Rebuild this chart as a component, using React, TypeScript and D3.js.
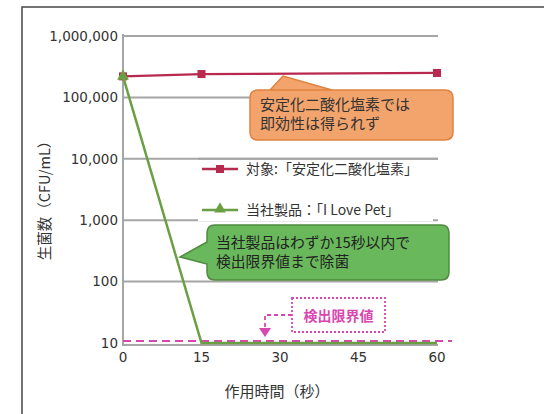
import React, { useEffect, useRef } from 'react';
import * as d3 from 'd3';

// data
const times = [0, 15, 30, 45, 60];
const yTicks = [10, 100, 1000, 10000, 100000, 1000000];
const controlTimes = [0, 15, 60];
const controlValues = [220000, 240000, 250000];
const productTimes = [0, 15, 30, 45, 60];
const productValues = [220000, 10, 10, 10, 10];
const detectionLimit = 10;

const controlName = '対象:「安定化二酸化塩素」';
const productName = '当社製品：「I Love Pet」';
const yTitle = '生菌数（CFU/mL）';
const xTitle = '作用時間（秒）';
const orangeNote = ['安定化二酸化塩素では', '即効性は得られず'];
const greenNote = ['当社製品はわずか15秒以内で', '検出限界値まで除菌'];
const limitLabel = '検出限界値';

const JP = '"Noto Sans CJK JP", "Noto Sans", sans-serif';
const NUM = '"DejaVu Sans", Verdana, sans-serif';
const RED = '#b8294f';
const GREEN = '#6aa043';
const PINK = '#d846b0';

const App = () => {
  const ref = useRef<SVGSVGElement>(null);

  useEffect(() => {
    const svg = d3.select(ref.current);
    svg.selectAll('*').remove();

    const x = d3.scaleLinear().domain([0, 60]).range([123, 437]);
    const y = d3.scaleLog().domain([10, 1000000]).range([343, 36]);

    // outer frame
    svg.append('rect').attr('x', 22).attr('y', 7).attr('width', 600).attr('height', 500)
      .attr('fill', 'white').attr('stroke', '#444').attr('stroke-width', 1.5);

    // gridlines
    svg.append('g').selectAll('line').data(yTicks.slice(1)).enter().append('line')
      .attr('x1', 123).attr('x2', 438)
      .attr('y1', d => y(d)).attr('y2', d => y(d))
      .attr('stroke', '#a6a6a6').attr('stroke-width', 2);

    // axes lines
    svg.append('line').attr('x1', 123).attr('x2', 123).attr('y1', 34).attr('y2', 345)
      .attr('stroke', '#a6a6a6').attr('stroke-width', 2);
    svg.append('line').attr('x1', 122).attr('x2', 438).attr('y1', 345).attr('y2', 345)
      .attr('stroke', '#a6a6a6').attr('stroke-width', 2);

    // tick labels
    svg.append('g').selectAll('text').data(yTicks).enter().append('text')
      .attr('x', 118).attr('y', d => y(d)).attr('dy', '0.35em')
      .attr('text-anchor', 'end').attr('font-family', NUM).attr('font-size', 13.5)
      .attr('fill', '#333').text(d => d3.format(',')(d));
    svg.append('g').selectAll('text').data(times).enter().append('text')
      .attr('x', d => x(d)).attr('y', 362)
      .attr('text-anchor', 'middle').attr('font-family', NUM).attr('font-size', 13.5)
      .attr('fill', '#333').text(d => d);

    // axis titles
    svg.append('text').attr('transform', 'translate(50,197) rotate(-90)')
      .attr('text-anchor', 'middle').attr('font-family', JP).attr('font-size', 14.5)
      .attr('fill', '#333').text(yTitle);
    svg.append('text').attr('x', 277).attr('y', 397)
      .attr('text-anchor', 'middle').attr('font-family', JP).attr('font-size', 15)
      .attr('fill', '#333').text(xTitle);

    // detection limit
    svg.append('line').attr('x1', 123).attr('x2', 452)
      .attr('y1', y(detectionLimit) - 2).attr('y2', y(detectionLimit) - 2)
      .attr('stroke', PINK).attr('stroke-width', 2).attr('stroke-dasharray', '8,5');

    const line = d3.line<[number, number]>().x(d => x(d[0])).y(d => y(d[1]));

    // control series
    const ctrl: [number, number][] = controlTimes.map((t, i) => [t, controlValues[i]]);
    svg.append('path').datum(ctrl).attr('d', line).attr('fill', 'none')
      .attr('stroke', RED).attr('stroke-width', 2.2);
    svg.append('g').selectAll('rect').data(ctrl).enter().append('rect')
      .attr('x', d => x(d[0]) - 4).attr('y', d => y(d[1]) - 4)
      .attr('width', 8).attr('height', 8).attr('fill', RED);

    // product series
    const prod: [number, number][] = productTimes.map((t, i) => [t, productValues[i]]);
    svg.append('path').datum(prod).attr('d', line).attr('fill', 'none')
      .attr('stroke', GREEN).attr('stroke-width', 2.5);
    const tri = d3.symbol().type(d3.symbolTriangle).size(60);
    svg.append('path').attr('d', tri).attr('fill', GREEN)
      .attr('transform', `translate(${x(prod[0][0])},${y(prod[0][1])})`);

    // detection limit label
    svg.append('rect').attr('x', 292).attr('y', 298).attr('width', 93).attr('height', 34)
      .attr('fill', 'white').attr('stroke', PINK).attr('stroke-width', 1.8).attr('stroke-dasharray', '2,2');
    svg.append('text').attr('x', 338.5).attr('y', 316).attr('dy', '0.35em')
      .attr('text-anchor', 'middle').attr('font-family', JP).attr('font-size', 14)
      .attr('font-weight', 'bold').attr('fill', PINK).text(limitLabel);
    svg.append('path').attr('d', 'M292,315 H265 V330').attr('fill', 'none')
      .attr('stroke', PINK).attr('stroke-width', 1.8).attr('stroke-dasharray', '4,3');
    svg.append('path').attr('d', 'M259,328 L271,328 L265,337 Z').attr('fill', PINK);

    // legend
    const legend = [
      { name: controlName, color: RED, yy: 169, marker: 'square' },
      { name: productName, color: GREEN, yy: 210, marker: 'triangle' },
    ];
    svg.append('rect').attr('x', 198).attr('y', 161).attr('width', 235).attr('height', 60)
      .attr('fill', 'white');
    svg.append('line').attr('x1', 198).attr('x2', 438).attr('y1', y(10000)).attr('y2', y(10000))
      .attr('stroke', '#a6a6a6').attr('stroke-width', 2);
    legend.forEach(l => {
      svg.append('line').attr('x1', 202).attr('x2', 238).attr('y1', l.yy).attr('y2', l.yy)
        .attr('stroke', l.color).attr('stroke-width', 2.5);
      if (l.marker === 'square') {
        svg.append('rect').attr('x', 216).attr('y', l.yy - 4).attr('width', 8).attr('height', 8).attr('fill', l.color);
      } else {
        svg.append('path').attr('d', tri).attr('fill', l.color).attr('transform', `translate(220,${l.yy - 1})`);
      }
      svg.append('text').attr('x', 246).attr('y', l.yy).attr('dy', '0.35em')
        .attr('font-family', JP).attr('font-size', 14).attr('fill', '#333').text(l.name);
    });

    // orange callout
    svg.append('path')
      .attr('d', 'M262,90 H445 Q453,90 453,98 V132 Q453,140 445,140 H258 Q250,140 250,132 V98 Q250,90 258,90 H270 L283,76 L332,90')
      .attr('fill', '#f2a46c').attr('stroke', '#e0823e').attr('stroke-width', 1.5);
    orangeNote.forEach((t, i) => {
      svg.append('text').attr('x', 260).attr('y', 105 + i * 19).attr('dy', '0.35em')
        .attr('font-family', JP).attr('font-size', 15).attr('fill', '#333').text(t);
    });

    // green callout
    svg.append('path')
      .attr('d', 'M215,225 H441 Q449,225 449,233 V272 Q449,280 441,280 H215 Q207,280 207,272 V264 L180,257 L207,242 V233 Q207,225 215,225 Z')
      .attr('fill', '#69b85b').attr('stroke', '#4f8a3f').attr('stroke-width', 1.5);
    greenNote.forEach((t, i) => {
      svg.append('text').attr('x', 216).attr('y', 243 + i * 19).attr('dy', '0.35em')
        .attr('font-family', JP).attr('font-size', 14.8).attr('fill', '#222').text(t);
    });
  }, []);

  return (
    <svg ref={ref} width={544} height={414}
      style={{ position: 'absolute', left: 0, top: 0, background: 'white' }} />
  );
};

export default App;
